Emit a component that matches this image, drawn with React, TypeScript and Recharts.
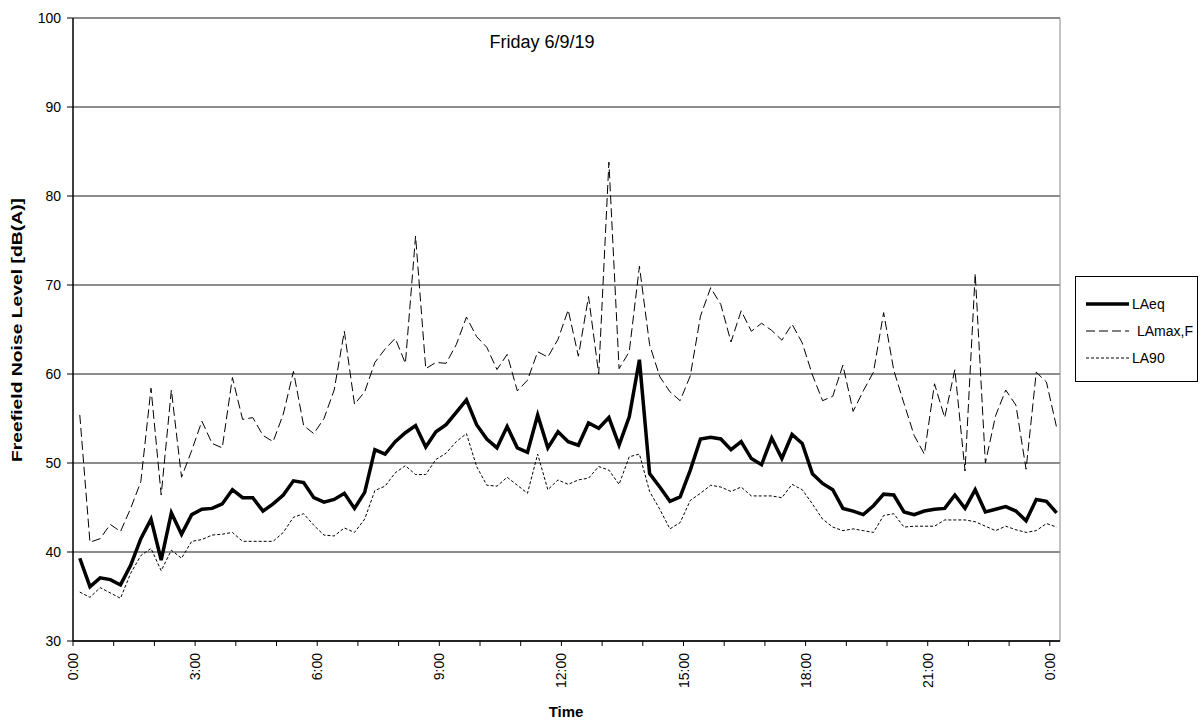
import { CartesianGrid, Legend, Line, LineChart, ReferenceLine, XAxis, YAxis } from "recharts";

// 15-minute samples, clock time of each reading (last one is 0:10 the next day)
const times = [
  "0:10", "0:25", "0:40", "0:55", "1:10", "1:25", "1:40", "1:55", "2:10", "2:25", "2:40", "2:55",
  "3:10", "3:25", "3:40", "3:55", "4:10", "4:25", "4:40", "4:55", "5:10", "5:25", "5:40", "5:55",
  "6:10", "6:25", "6:40", "6:55", "7:10", "7:25", "7:40", "7:55", "8:10", "8:25", "8:40", "8:55",
  "9:10", "9:25", "9:40", "9:55", "10:10", "10:25", "10:40", "10:55", "11:10", "11:25", "11:40", "11:55",
  "12:10", "12:25", "12:40", "12:55", "13:10", "13:25", "13:40", "13:55", "14:10", "14:25", "14:40", "14:55",
  "15:10", "15:25", "15:40", "15:55", "16:10", "16:25", "16:40", "16:55", "17:10", "17:25", "17:40", "17:55",
  "18:10", "18:25", "18:40", "18:55", "19:10", "19:25", "19:40", "19:55", "20:10", "20:25", "20:40", "20:55",
  "21:10", "21:25", "21:40", "21:55", "22:10", "22:25", "22:40", "22:55", "23:10", "23:25", "23:40", "23:55",
  "24:10",
];

const laeq = [
  39.3, 36.1, 37.1, 36.9, 36.3, 38.5, 41.5, 43.7, 39.1, 44.4, 42.0, 44.2,
  44.8, 44.9, 45.4, 47.0, 46.1, 46.1, 44.6, 45.4, 46.4, 48.0, 47.8, 46.1,
  45.6, 45.9, 46.6, 44.9, 46.7, 51.5, 51.0, 52.4, 53.4, 54.2, 51.8, 53.5,
  54.3, 55.7, 57.1, 54.3, 52.7, 51.7, 54.1, 51.7, 51.2, 55.4, 51.7, 53.5,
  52.4, 52.0, 54.5, 53.9, 55.1, 52.0, 55.2, 61.6, 48.8, 47.3, 45.7, 46.2,
  49.2, 52.7, 52.9, 52.7, 51.5, 52.4, 50.5, 49.8, 52.8, 50.5, 53.2, 52.2,
  48.8, 47.7, 47.0, 44.9, 44.6, 44.2, 45.2, 46.5, 46.4, 44.5, 44.2, 44.6,
  44.8, 44.9, 46.4, 44.9, 47.0, 44.5, 44.8, 45.1, 44.6, 43.5, 45.9, 45.7,
  44.4,
];

const lamax = [
  55.4, 41.1, 41.5, 43.1, 42.3, 44.9, 47.9, 58.4, 46.4, 58.2, 48.4, 51.4,
  54.7, 52.2, 51.7, 59.6, 54.9, 55.1, 53.1, 52.4, 55.5, 60.3, 54.2, 53.3,
  55.0, 58.2, 64.8, 56.6, 58.0, 61.3, 62.8, 64.0, 61.2, 75.5, 60.6, 61.3,
  61.2, 63.3, 66.4, 64.2, 63.0, 60.5, 62.2, 58.1, 59.3, 62.5, 61.9, 63.9,
  67.2, 62.0, 68.7, 60.0, 83.8, 60.6, 62.5, 72.1, 63.3, 59.7, 58.0, 57.0,
  59.8, 66.5, 69.7, 67.8, 63.6, 67.1, 64.8, 65.7, 64.9, 63.8, 65.6, 63.5,
  59.9, 57.0, 57.5, 61.0, 55.8, 58.1, 60.2, 66.9, 60.4, 56.7, 53.1, 51.0,
  58.9, 55.1, 60.5, 49.1, 71.3, 50.0, 55.3, 58.2, 56.5, 49.3, 60.2, 59.1,
  54.0,
];

const la90 = [
  35.5, 34.9, 36.0, 35.4, 34.8, 37.6, 39.6, 40.4, 37.9, 40.2, 39.3, 41.2,
  41.4, 41.9, 42.0, 42.2, 41.2, 41.2, 41.2, 41.2, 42.2, 43.9, 44.3, 43.0,
  41.9, 41.8, 42.7, 42.2, 43.7, 46.9, 47.4, 48.9, 49.7, 48.7, 48.7, 50.4,
  51.1, 52.4, 53.3, 49.6, 47.5, 47.4, 48.4, 47.5, 46.6, 51.0, 47.0, 48.1,
  47.6, 48.1, 48.3, 49.6, 49.2, 47.6, 50.7, 51.0, 46.8, 44.8, 42.6, 43.3,
  45.8, 46.6, 47.5, 47.3, 46.8, 47.3, 46.3, 46.3, 46.3, 46.1, 47.6, 47.0,
  45.4, 43.7, 42.8, 42.4, 42.6, 42.4, 42.2, 44.1, 44.3, 42.8, 42.9, 42.9,
  42.9, 43.6, 43.6, 43.6, 43.4, 42.9, 42.4, 42.9, 42.5, 42.2, 42.4, 43.2,
  42.8,
];

const hourTicks = [0, 1, 2, 3, 4, 5, 6, 7, 8, 9, 10, 11, 12, 13, 14, 15, 16, 17, 18, 19, 20, 21, 22, 23, 24];
const levelTicks = [30, 40, 50, 60, 70, 80, 90, 100];

const font = '"Liberation Sans", Arial, Helvetica, sans-serif';

function toHours(label: string) {
  const [h, m] = label.split(":").map(Number);
  return h + m / 60;
}

const data = times.map((time, i) => ({
  t: toHours(time),
  laeq: laeq[i],
  lamax: lamax[i],
  la90: la90[i],
}));

const legendItems = [
  { name: "LAeq", width: 3.5, dash: undefined, textX: 56 },
  { name: "LAmax,F", width: 1, dash: "9 4", textX: 61 },
  { name: "LA90", width: 1, dash: "3 2", textX: 56 },
];

function TimeTick({ x, y, payload }: { x?: number; y?: number; payload?: { value: number } }) {
  const h = payload?.value ?? 0;
  if (h % 3 !== 0) return null;
  return (
    <text
      x={x}
      y={y}
      transform={`rotate(-90, ${x}, ${y})`}
      textAnchor="end"
      dominantBaseline="central"
      fontSize={14}
      fontFamily={font}
      fill="#000"
    >
      {`${h % 24}:00`}
    </text>
  );
}

function YTitle() {
  return (
    <text
      x={17}
      y={330}
      transform="rotate(-90, 17, 330)"
      textAnchor="middle"
      dominantBaseline="central"
      fontSize={14.5}
      fontWeight="bold"
      fontFamily={font}
      fill="#000"
      textLength={264}
      lengthAdjust="spacingAndGlyphs"
    >
      Freefield Noise Level [dB(A)]
    </text>
  );
}

function XTitle() {
  return (
    <text x={566} y={711} textAnchor="middle" dominantBaseline="central" fontSize={15} fontWeight="bold" fontFamily={font} fill="#000">
      Time
    </text>
  );
}

function LegendBox() {
  return (
    <div style={{ position: "relative", width: 123, height: 106, border: "1px solid #000", background: "#fff", boxSizing: "border-box" }}>
      <svg width={123} height={106} style={{ position: "absolute", left: 0, top: 0 }}>
        {legendItems.map((item, i) => {
          const cy = 27 + i * 27;
          return (
            <g key={item.name}>
              <line x1={10} x2={53} y1={cy} y2={cy} stroke="#000" strokeWidth={item.width} strokeDasharray={item.dash} />
              <text x={item.textX} y={cy} dominantBaseline="central" fontSize={14} fontFamily={font} fill="#000">
                {item.name}
              </text>
            </g>
          );
        })}
      </svg>
    </div>
  );
}

export default function App() {
  return (
    <div style={{ position: "absolute", left: 0, top: 0, width: 1203, height: 722, background: "#fff", fontFamily: font }}>
      <LineChart width={1203} height={722} data={data} margin={{ top: 18, right: 143, bottom: 21, left: 33 }}>
        <CartesianGrid vertical={false} stroke="#1a1a1a" strokeWidth={1.2} />
        <XAxis
          type="number"
          dataKey="t"
          domain={[0, 24.25]}
          ticks={hourTicks}
          interval={0}
          height={60}
          tick={<TimeTick />}
          tickSize={5}
          tickMargin={7}
          axisLine={{ stroke: "#000", strokeWidth: 1.5 }}
          tickLine={{ stroke: "#000" }}
          label={<XTitle />}
          allowDataOverflow
        />
        <YAxis
          type="number"
          domain={[30, 100]}
          ticks={levelTicks}
          interval={0}
          width={40}
          tickSize={6}
          tickMargin={6}
          tick={{ fontSize: 14, fill: "#000", fontFamily: font }}
          axisLine={{ stroke: "#000", strokeWidth: 1.5 }}
          tickLine={{ stroke: "#000" }}
          label={<YTitle />}
          allowDataOverflow
        />
        <ReferenceLine x={24.25} stroke="#888" strokeWidth={1} />
        <Line
          type="linear"
          dataKey="lamax"
          name="LAmax,F"
          stroke="#000"
          strokeWidth={1}
          strokeDasharray="9 4"
          dot={false}
          isAnimationActive={false}
        />
        <Line
          type="linear"
          dataKey="la90"
          name="LA90"
          stroke="#000"
          strokeWidth={1}
          strokeDasharray="3 2"
          dot={false}
          isAnimationActive={false}
        />
        <Line
          type="linear"
          dataKey="laeq"
          name="LAeq"
          stroke="#000"
          strokeWidth={3.5}
          dot={false}
          isAnimationActive={false}
        />
        <Legend
          layout="vertical"
          align="center"
          verticalAlign="middle"
          wrapperStyle={{ left: 1075, top: 276, width: 123, height: 106 }}
          content={<LegendBox />}
        />
      </LineChart>
      <svg width={1203} height={722} style={{ position: "absolute", left: 0, top: 0, pointerEvents: "none" }}>
        <text x={542} y={42} textAnchor="middle" dominantBaseline="central" fontSize={18} fontFamily={font} fill="#000">
          Friday 6/9/19
        </text>
      </svg>
    </div>
  );
}
